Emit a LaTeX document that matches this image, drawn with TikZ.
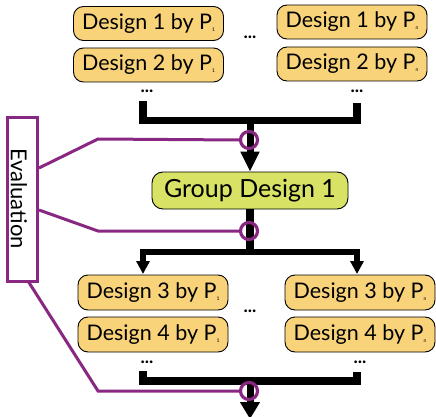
\documentclass[tikz,border=0pt]{standalone}
\usepackage{fontspec}
\setmainfont{Lato}
\usetikzlibrary{arrows.meta}
\definecolor{boxorange}{RGB}{248,211,122}
\definecolor{boxgreen}{RGB}{216,226,100}
\definecolor{evalpurple}{RGB}{136,40,130}
\newcommand{\Psub}[1]{P\raisebox{-2pt}{\fontsize{5}{5}\selectfont #1}}
\begin{document}
\begin{tikzpicture}[x=1pt,y=-1pt,
  designbox/.style={draw=black,line width=0.9pt,fill=boxorange,rounded corners=10pt,
    minimum width=150pt,minimum height=34pt,inner sep=0pt,font=\fontsize{21.5}{21.5}\selectfont},
  groupbox/.style={draw=black,line width=0.9pt,fill=boxgreen,rounded corners=11pt,
    minimum width=196pt,minimum height=37pt,inner sep=0pt,font=\fontsize{25}{25}\selectfont},
  dotsnode/.style={inner sep=0pt,font=\fontsize{18}{18}\selectfont\bfseries},
  bar/.style={line width=7.5pt,black},
  flow/.style={line width=7pt,black},
  evalline/.style={line width=3pt,evalpurple,line join=miter},
  evalring/.style={line width=3.2pt,evalpurple,circle,minimum size=17pt,inner sep=0pt,draw},
]
\useasboundingbox (0,0) rectangle (436,417);
% top designs
\node[designbox] (d11) at (148.5,23.5) {Design 1 by \Psub{1}};
\node[designbox] (d21) at (148.5,65) {Design 2 by \Psub{1}};
\node[designbox] (d1n) at (352,22) {Design 1 by \Psub{n}};
\node[designbox] (d2n) at (352,64) {Design 2 by \Psub{n}};
\node[dotsnode] (dtop) at (250,37) {...};
\node[dotsnode] (dl1) at (147,91) {...};
\node[dotsnode] (dr1) at (357,91) {...};
% bar 1
\coordinate (b1l) at (143,101);
\coordinate (b1r) at (357,103);
\coordinate (b1c) at (250,120.5);
\draw[bar,line cap=butt] (b1l) |- (b1c) -| (b1r);
% group
\node[groupbox] (g) at (250,190.5) {Group Design 1};
\draw[flow,-{Triangle[width=18pt,length=20pt]}] (b1c) -- (g.north);
% bar 2
\coordinate (b2c) at (250,252);
\coordinate (a2l) at (143,274);
\coordinate (a2r) at (357,274);
\draw[bar] (g.south) -- (b2c);
\draw[flow,line width=5.5pt,-{Triangle[width=13pt,length=13pt]}] (b2c) -| (a2l);
\draw[flow,line width=5.5pt,-{Triangle[width=13pt,length=13pt]}] (b2c) -| (a2r);
% bottom designs
\node[designbox,minimum height=35pt] (d31) at (153,292.5) {Design 3 by \Psub{1}};
\node[designbox,minimum height=35pt] (d41) at (153,334.5) {Design 4 by \Psub{1}};
\node[designbox,minimum height=35pt] (d3n) at (360,292.5) {Design 3 by \Psub{n}};
\node[designbox,minimum height=35pt] (d4n) at (360,334.5) {Design 4 by \Psub{n}};
\node[dotsnode] (dmid) at (250,311) {...};
\node[dotsnode] (dl2) at (147,362) {...};
\node[dotsnode] (dr2) at (360,362) {...};
% bar 3
\coordinate (b3l) at (143,371);
\coordinate (b3r) at (357,372);
\coordinate (b3c) at (250,381);
\coordinate (end) at (250,419);
\draw[bar] (b3l) |- (b3c) -| (b3r);
\draw[flow,-{Triangle[width=19pt,length=17pt]}] (b3c) -- (end);
% evaluation
\node[draw=evalpurple,line width=3pt,minimum width=30pt,minimum height=163pt,inner sep=0pt] (ev) at (22.5,199.5) {};
\node[rotate=-90,font=\fontsize{22}{22}\selectfont,inner sep=0pt] (evt) at (19,198.5) {Evaluation};
\node[evalring] (c1) at (249,140) {};
\node[evalring] (c2) at (249,231) {};
\node[evalring] (c3) at (249,391) {};
\coordinate (k1) at (98,139);
\coordinate (k2) at (98,231);
\coordinate (k3) at (98,391);
\draw[evalline] (ev.east |- 0,168) -- (k1) -- (c1.west);
\draw[evalline] (ev.east |- 0,210) -- (k2) -- (c2.west);
\draw[evalline] (28,281) -- (k3) -- (c3.west);
\end{tikzpicture}
\end{document}
